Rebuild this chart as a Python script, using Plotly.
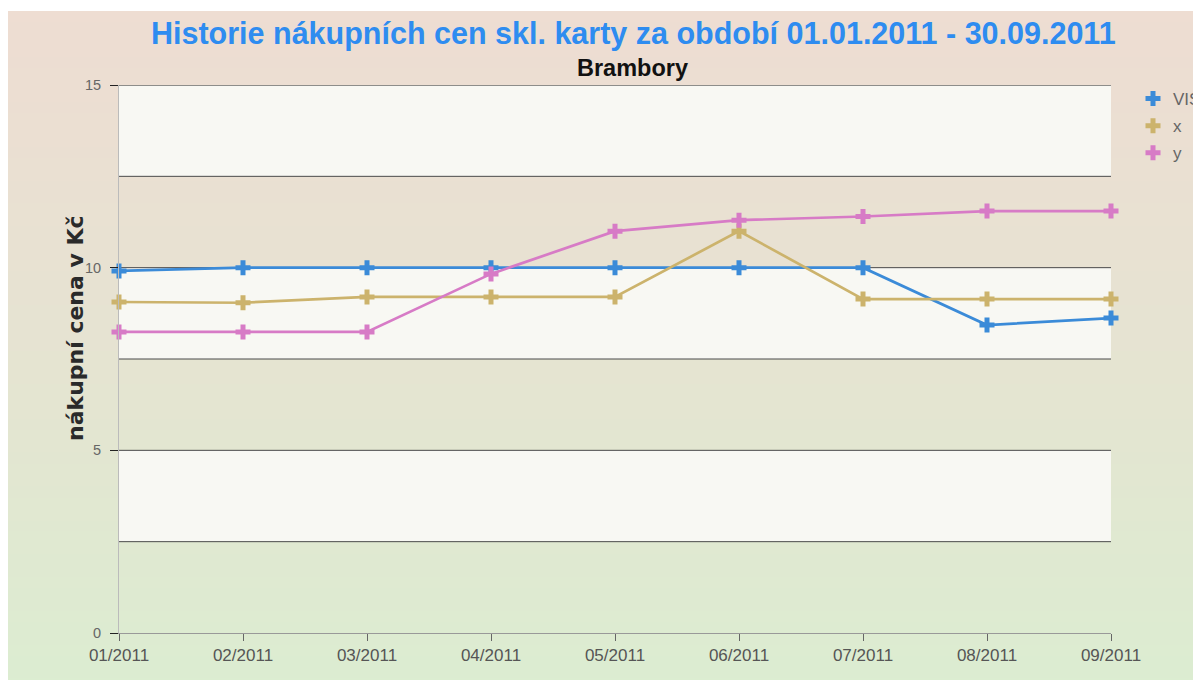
import plotly.graph_objects as go

months = ["01/2011", "02/2011", "03/2011", "04/2011", "05/2011",
          "06/2011", "07/2011", "08/2011", "09/2011"]
series_names = ["VIS", "x", "y"]
vis_values = [9.91, 10.0, 10.0, 10.0, 10.0, 10.0, 10.0, 8.43, 8.62]
x_values = [9.06, 9.04, 9.2, 9.2, 9.2, 11.0, 9.14, 9.14, 9.14]
y_values = [8.24, 8.24, 8.24, 9.83, 11.0, 11.3, 11.4, 11.55, 11.55]
y_tick_vals = [0, 5, 10, 15]
band_edges = [0, 2.5, 5, 7.5, 10, 12.5, 15]

colors = ["#3b8bd8", "#ccb36c", "#d77bc6"]

title_text = "Historie nákupních cen skl. karty za období 01.01.2011 - 30.09.2011"
subtitle_text = "Brambory"
y_title = "nákupní cena v Kč"

W, H = 1201, 680
OFF = 8  # page offset of the figure (body margin)
# plot area in page pixels
PL, PR, PT, PB = 119, 1111, 85, 633
L, R, T, B = PL - OFF, PR - OFF, PT - OFF, PB - OFF


def fx(px):  # page px -> paper x
    return (px - OFF - L) / (R - L)


def fy(py):  # page py -> paper y
    return (B - (py - OFF)) / (B - T)


fig = go.Figure()
for name, vals, col in zip(series_names, [vis_values, x_values, y_values], colors):
    fig.add_trace(go.Scatter(
        x=months, y=vals, name=name, mode="lines",
        line=dict(color=col, width=2.7), showlegend=False,
        cliponaxis=False, hoverinfo="skip",
    ))
    fig.add_trace(go.Scatter(
        x=months, y=vals, name=name, mode="markers",
        marker=dict(symbol="cross", size=12.5, color=col, line=dict(width=0)),
        cliponaxis=False, legendgroup=name,
    ))

shapes = []
# background gradient (pinkish top -> greenish bottom)
top_c = (238, 221, 210)
mid_c = (230, 228, 210)
bot_c = (220, 237, 209)
n = 60
y0px, y1px = 11, 690
for i in range(n):
    t = i / (n - 1)
    if t < 0.5:
        u = t / 0.5
        c = tuple(int(top_c[k] + (mid_c[k] - top_c[k]) * u) for k in range(3))
    else:
        u = (t - 0.5) / 0.5
        c = tuple(int(mid_c[k] + (bot_c[k] - mid_c[k]) * u) for k in range(3))
    ya = y0px + (y1px - y0px) * i / n
    yb = y0px + (y1px - y0px) * (i + 1) / n + 1
    shapes.append(dict(type="rect", xref="paper", yref="paper",
                       x0=fx(OFF - 2), x1=fx(W + 20),
                       y0=fy(yb), y1=fy(ya),
                       fillcolor="rgb(%d,%d,%d)" % c, line=dict(width=0),
                       layer="below"))
# alternating plot bands
for i in range(len(band_edges) - 1):
    if i % 2 == 1:
        shapes.append(dict(type="rect", xref="paper", yref="y",
                           x0=0, x1=1, y0=band_edges[i], y1=band_edges[i + 1],
                           fillcolor="#f8f8f3", line=dict(width=0), layer="below"))
# grid lines
for v in band_edges[1:]:
    shapes.append(dict(type="line", xref="paper", yref="y", x0=0, x1=1,
                       y0=v, y1=v, line=dict(color="#222" if v == 15 else "#4a4a4a", width=1),
                       layer="below"))

annotations = [
    dict(text="<b>" + title_text + "</b>", xref="paper", yref="paper",
         x=fx(633), y=fy(33), xanchor="center", yanchor="middle",
         showarrow=False, font=dict(family="Liberation Sans, Arial", size=30.5, color="#2e8cf0")),
    dict(text="<b>" + subtitle_text + "</b>", xref="paper", yref="paper",
         x=fx(632), y=fy(68), xanchor="center", yanchor="middle",
         showarrow=False, font=dict(family="Liberation Sans, Arial", size=23.5, color="#111")),
    dict(text="<b>" + y_title + "</b>", xref="paper", yref="paper",
         x=fx(75), y=fy(328), xanchor="center", yanchor="middle",
         textangle=-90, showarrow=False,
         font=dict(family="DejaVu Sans", size=22, color="#2a2a2a")),
]

fig.update_layout(
    width=W, height=H,
    margin=dict(l=L, r=W - R, t=T, b=H - B, autoexpand=False),
    paper_bgcolor="white", plot_bgcolor="rgba(0,0,0,0)",
    font=dict(family="Liberation Sans, Arial", size=12, color="#555"),
    shapes=shapes, annotations=annotations,
    showlegend=True,
    legend=dict(x=fx(1133), y=fy(81), xanchor="left", yanchor="top",
                bgcolor="rgba(0,0,0,0)", font=dict(size=17, color="#666"),
                tracegroupgap=2, itemwidth=30),
    xaxis=dict(type="category", categoryorder="array", categoryarray=months,
               range=[0, len(months) - 1], showgrid=False, zeroline=False,
               showline=True, linecolor="#999", linewidth=1,
               ticks="outside", ticklen=7, tickcolor="#666",
               tickfont=dict(size=17, color="#555")),
    yaxis=dict(range=[0, 15], tickvals=y_tick_vals, showgrid=False, zeroline=False,
               showline=True, linecolor="#bbb", linewidth=1,
               ticks="outside", ticklen=8, tickcolor="#222", ticklabelstandoff=6,
               tickfont=dict(size=14.5, color="#666")),
)

fig.write_html("out.html")
